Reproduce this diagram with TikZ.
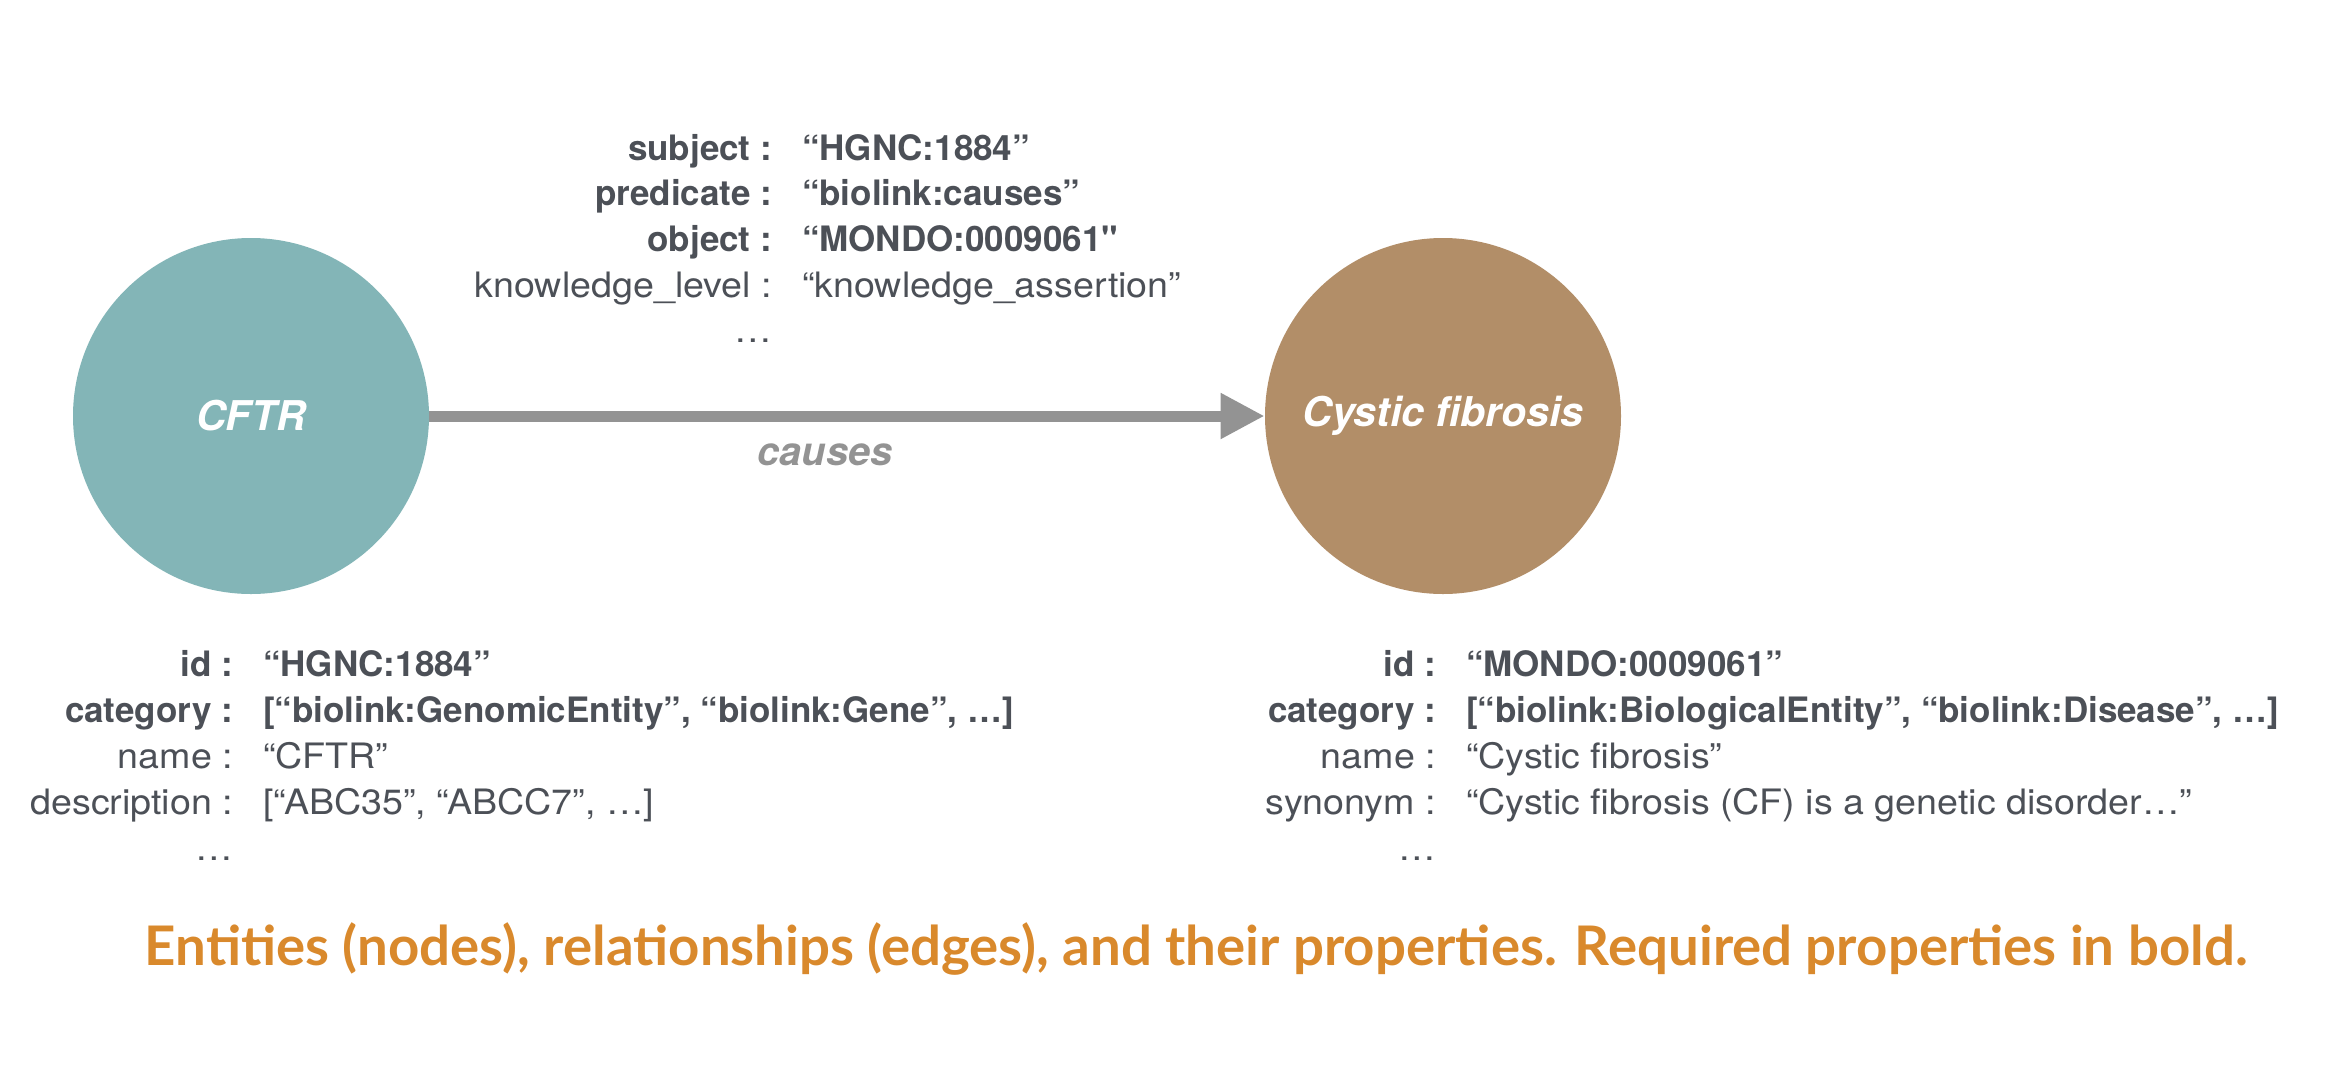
\documentclass[tikz,border=0pt]{standalone}
\usepackage{fontspec}
\setmainfont{TeX Gyre Heros}[Ligatures=TeXOff, UprightFeatures={FakeStretch=1.075}]
\newfontfamily\capfont{Lato}
\usetikzlibrary{arrows.meta}
\definecolor{txt}{RGB}{76,80,87}
\definecolor{tealc}{RGB}{131,181,183}
\definecolor{brownc}{RGB}{178,142,104}
\definecolor{edgegray}{RGB}{147,147,147}
\definecolor{capor}{RGB}{217,137,44}
\begin{document}
\begin{tikzpicture}[x=0.5pt,y=-0.5pt,
  lbl/.style={inner sep=0pt, outer sep=0pt, text=txt, font=\fontsize{17.5}{21}\selectfont},
  key/.style={lbl, anchor=base east},
  val/.style={lbl, anchor=base west},
  req/.style={font=\fontsize{17.5}{21}\selectfont\bfseries},
  ent/.style={circle, minimum size=178pt, inner sep=0pt, text=white,
    font=\fontsize{20.5}{24}\selectfont\bfseries\itshape},
  rel/.style={line width=5.5pt, draw=edgegray, -{Triangle[length=22pt,width=21.5pt,fill=edgegray]}}
]
\useasboundingbox (0,0) rectangle (2340,1088);

% entities
\node[ent, fill=tealc] (cftr) at (251,416) {CFTR};
\node[ent, fill=brownc] (cf) at (1443,416) {Cystic fibrosis};

% relationship
\draw[rel] (cftr.east) -- (cf.west);
\node[inner sep=0pt, anchor=base, text=edgegray, font=\fontsize{19.8}{23}\selectfont\bfseries\itshape] (causes) at (825,465) {causes};

% edge properties
\node[key, req] (ek1) at (772,160) {subject :};
\node[val, req] (ev1) at (802,160) {“HGNC:1884”};
\node[key, req] (ek2) at (772,205.7) {predicate :};
\node[val, req] (ev2) at (802,205.7) {“biolink:causes”};
\node[key, req] (ek3) at (772,251.4) {object :};
\node[val, req] (ev3) at (802,251.4) {“MONDO:0009061"};
\node[key] (ek4) at (772,297.1) {knowledge\_level :};
\node[val] (ev4) at (802,297.1) {“knowledge\_assertion”};
\node[key] (ek5) at (772,342.8) {…};

% CFTR properties
\node[key, req] (lk1) at (233,676) {id :};
\node[val, req] (lv1) at (263,676) {“HGNC:1884”};
\node[key, req] (lk2) at (233,722.5) {category :};
\node[val, req] (lv2) at (263,722.5) {[“biolink:GenomicEntity”, “biolink:Gene”, …]};
\node[key] (lk3) at (233,768.5) {name :};
\node[val] (lv3) at (263,768.5) {“CFTR”};
\node[key] (lk4) at (233,814.5) {description :};
\node[val] (lv4) at (263,814.5) {[“ABC35”, “ABCC7”, …]};
\node[key] (lk5) at (233,860) {…};

% Cystic fibrosis properties
\node[key, req] (rk1) at (1436,676) {id :};
\node[val, req] (rv1) at (1466,676) {“MONDO:0009061”};
\node[key, req] (rk2) at (1436,722.5) {category :};
\node[val, req] (rv2) at (1466,722.5) {[“biolink:BiologicalEntity”, “biolink:Disease”, …]};
\node[key] (rk3) at (1436,768.5) {name :};
\node[val] (rv3) at (1466,768.5) {“Cystic fibrosis”};
\node[key] (rk4) at (1436,814.5) {synonym :};
\node[val] (rv4) at (1466,814.5) {“Cystic fibrosis (CF) is a genetic disorder…”};
\node[key] (rk5) at (1436,860) {…};

% caption
\node[inner sep=0pt, anchor=base, text=capor] (caption) at (1196,965)
  {\resizebox{1051pt}{!}{\capfont\bfseries Entities (nodes), relationships (edges), and their properties. Required properties in bold.}};
\end{tikzpicture}
\end{document}
